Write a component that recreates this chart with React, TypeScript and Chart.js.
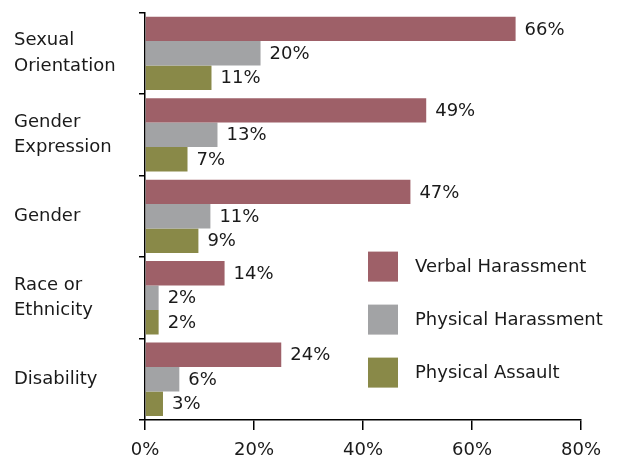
import React, { useEffect, useRef } from "react";
import { Chart, registerables } from "chart.js";

Chart.register(...registerables);

const categories: string[][] = [
  ["Sexual", "Orientation"],
  ["Gender", "Expression"],
  ["Gender"],
  ["Race or", "Ethnicity"],
  ["Disability"],
];
const seriesNames = ["Verbal Harassment", "Physical Harassment", "Physical Assault"];
const verbalValues = [68.0, 51.6, 48.7, 14.6, 25.0];
const physicalHarassmentValues = [21.2, 13.3, 12.0, 2.5, 6.3];
const physicalAssaultValues = [12.2, 7.8, 9.8, 2.5, 3.3];
const verbalLabels = ["66%", "49%", "47%", "14%", "24%"];
const physicalHarassmentLabels = ["20%", "13%", "11%", "2%", "6%"];
const physicalAssaultLabels = ["11%", "7%", "9%", "2%", "3%"];
const xTicks = [0, 20, 40, 60, 80];

const colors = ["#9e6068", "#a2a3a5", "#898948"];
const FONT = "'DejaVu Sans', sans-serif";
const TEXT = "#1a1a1a";

const valueLabelPlugin = {
  id: "valueLabels",
  afterDatasetsDraw(chart: any) {
    const ctx = chart.ctx;
    const labelSets = [verbalLabels, physicalHarassmentLabels, physicalAssaultLabels];
    ctx.save();
    ctx.font = `18px ${FONT}`;
    ctx.fillStyle = TEXT;
    ctx.textAlign = "left";
    ctx.textBaseline = "middle";
    chart.data.datasets.forEach((_: any, di: number) => {
      const meta = chart.getDatasetMeta(di);
      meta.data.forEach((el: any, i: number) => {
        ctx.fillText(labelSets[di][i], el.x + 9, el.y + 1);
      });
    });
    ctx.restore();
  },
};

const boxLegendPlugin = {
  id: "boxLegend",
  afterDraw(chart: any) {
    const ctx = chart.ctx;
    const area = chart.chartArea;
    const bx = area.left + 223;
    const startY = area.top + 239;
    ctx.save();
    ctx.font = `18px ${FONT}`;
    ctx.textAlign = "left";
    ctx.textBaseline = "middle";
    chart.data.datasets.forEach((ds: any, i: number) => {
      const y = startY + i * 53;
      ctx.fillStyle = ds.backgroundColor;
      ctx.fillRect(bx, y, 30, 30);
      ctx.fillStyle = TEXT;
      ctx.fillText(ds.label, bx + 47, y + 16);
    });
    ctx.restore();
  },
};

export default function App() {
  const canvasRef = useRef<HTMLCanvasElement | null>(null);

  useEffect(() => {
    document.body.style.margin = "0";
    const canvas = canvasRef.current;
    if (!canvas) return;
    const values = [verbalValues, physicalHarassmentValues, physicalAssaultValues];
    const chart = new Chart(canvas, {
      type: "bar",
      data: {
        labels: categories,
        datasets: seriesNames.map((name, i) => ({
          label: name,
          data: values[i],
          backgroundColor: colors[i],
          borderWidth: 0,
          barPercentage: 1,
          categoryPercentage: 0.9,
        })),
      },
      options: {
        indexAxis: "y",
        animation: false,
        responsive: true,
        maintainAspectRatio: false,
        layout: { padding: { top: 10, left: 14, right: 59, bottom: 0 } },
        plugins: {
          legend: { display: false },
          tooltip: { enabled: false },
        },
        scales: {
          x: {
            type: "linear",
            min: 0,
            max: 80,
            afterBuildTicks: (scale: any) => {
              scale.ticks = xTicks.map((v) => ({ value: v }));
            },
            ticks: {
              callback: (v: any) => `${v}%`,
              font: { family: FONT, size: 18 },
              color: TEXT,
              padding: 10,
              maxRotation: 0,
            },
            grid: {
              drawOnChartArea: false,
              drawTicks: true,
              tickLength: 10,
              color: "#000",
              lineWidth: 1.5,
            },
            border: { color: "#000", width: 1.5 },
            afterFit: (scale: any) => {
              scale.height = 37;
            },
          },
          y: {
            type: "category",
            grid: {
              offset: true,
              drawOnChartArea: false,
              drawTicks: true,
              tickLength: 6,
              color: "#000",
              lineWidth: 1.5,
            },
            border: { color: "#000", width: 1.5 },
            ticks: {
              crossAlign: "far",
              font: { family: FONT, size: 18, lineHeight: 1.4 },
              color: TEXT,
              padding: 0,
            },
            afterFit: (scale: any) => {
              scale.width = 131;
            },
          },
        },
      } as any,
      plugins: [valueLabelPlugin, boxLegendPlugin],
    });
    return () => chart.destroy();
  }, []);

  return (
    <div style={{ width: 640, height: 457, position: "relative" }}>
      <canvas ref={canvasRef} />
    </div>
  );
}
